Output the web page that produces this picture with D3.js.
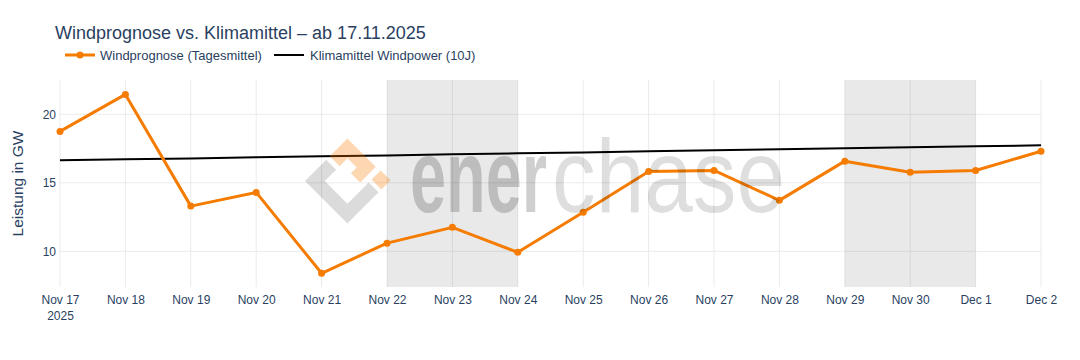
<!DOCTYPE html>
<html>
<head>
<meta charset="utf-8">
<script src="https://cdn.jsdelivr.net/npm/d3@7"></script>
<style>
  body { margin: 0; background: #fff; }
  text { font-family: "Liberation Sans", Arial, sans-serif; }
</style>
</head>
<body>
<div id="chart"></div>
<script>
// data
const days = ["2025-11-17", "2025-11-18", "2025-11-19", "2025-11-20", "2025-11-21", "2025-11-22",
  "2025-11-23", "2025-11-24", "2025-11-25", "2025-11-26", "2025-11-27", "2025-11-28",
  "2025-11-29", "2025-11-30", "2025-12-01", "2025-12-02"];
const windForecast = [18.75, 21.45, 13.3, 14.3, 8.4, 10.6, 11.75, 9.93, 12.85, 15.82, 15.9, 13.72,
  16.58, 15.77, 15.9, 17.3];
const climateMean = [16.64, 16.71, 16.78, 16.86, 16.93, 17.0, 17.08, 17.15, 17.22, 17.3, 17.37, 17.44,
  17.52, 17.59, 17.66, 17.74];
const weekends = [["2025-11-22", "2025-11-24"], ["2025-11-29", "2025-12-01"]];
const yTicks = [10, 15, 20];
const seriesNames = ["Windprognose (Tagesmittel)", "Klimamittel Windpower (10J)"];
const titleText = "Windprognose vs. Klimamittel \u2013 ab 17.11.2025";

const width = 1080, height = 360;
const margin = { top: 80, right: 39, bottom: 73, left: 60 };
const innerW = width - margin.left - margin.right,
  innerH = height - margin.top - margin.bottom;
const textColor = "#2a3f5f";
const orange = "#f57c00";

const parse = d3.timeParse("%Y-%m-%d");
const dates = days.map(parse);

const svg = d3.select("#chart").append("svg")
  .attr("width", width).attr("height", height);

const g = svg.append("g")
  .attr("transform", `translate(${margin.left},${margin.top})`);

const x = d3.scaleTime().domain([dates[0], dates[dates.length - 1]]).range([0, innerW]);
const y = d3.scaleLinear().domain([7.4, 22.5]).range([innerH, 0]);

// grid lines
g.append("g").selectAll("line.vg").data(dates).join("line")
  .attr("x1", d => x(d)).attr("x2", d => x(d))
  .attr("y1", 0).attr("y2", innerH)
  .attr("stroke", "#ebebeb").attr("stroke-width", 1);
g.append("g").selectAll("line.hg").data(yTicks).join("line")
  .attr("x1", 0).attr("x2", innerW)
  .attr("y1", d => y(d)).attr("y2", d => y(d))
  .attr("stroke", "#ebebeb").attr("stroke-width", 1);

// weekend shading
g.append("g").selectAll("rect").data(weekends).join("rect")
  .attr("x", d => x(parse(d[0])))
  .attr("width", d => x(parse(d[1])) - x(parse(d[0])))
  .attr("y", 0).attr("height", innerH)
  .attr("fill", "#000").attr("fill-opacity", 0.085);

// watermark (enerchase logo)
const wm = svg.append("g");
const logo = wm.append("g").attr("transform", "translate(305,181) rotate(-45)");
logo.append("path")
  .attr("d", "M0,0 L30,0 L30,14 L14,14 L14,46 L44,46 L44,60 L0,60 Z")
  .attr("fill", "#000").attr("fill-opacity", 0.14);
logo.append("path")
  .attr("d", "M35,0 L60,0 L60,40 L38,40 L38,27 L46,27 L46,14 L35,14 Z")
  .attr("fill", "#f57c00").attr("fill-opacity", 0.3);
logo.append("rect")
  .attr("x", 48).attr("y", 46).attr("width", 13).attr("height", 14)
  .attr("fill", "#f57c00").attr("fill-opacity", 0.3);
wm.append("text")
  .attr("x", 410).attr("y", 212)
  .attr("textLength", 137).attr("lengthAdjust", "spacingAndGlyphs")
  .style("font-family", "'Liberation Sans Narrow', 'Liberation Sans', Arial, sans-serif")
  .style("font-weight", "bold").style("font-size", "104px")
  .attr("fill", "#000").attr("fill-opacity", 0.19)
  .text("ener");
wm.append("text")
  .attr("x", 552).attr("y", 212)
  .attr("textLength", 233).attr("lengthAdjust", "spacingAndGlyphs")
  .style("font-family", "'Liberation Sans Narrow', 'Liberation Sans', Arial, sans-serif")
  .style("font-size", "104px")
  .attr("fill", "#000").attr("fill-opacity", 0.13)
  .text("chase");

// lines
const climateLine = d3.line().x((d, i) => x(dates[i])).y(d => y(d));
g.append("path").datum(climateMean)
  .attr("d", climateLine)
  .attr("fill", "none").attr("stroke", "#000").attr("stroke-width", 2);

const windLine = d3.line().x((d, i) => x(dates[i])).y(d => y(d));
g.append("path").datum(windForecast)
  .attr("d", windLine)
  .attr("fill", "none").attr("stroke", orange).attr("stroke-width", 3)
  .attr("stroke-linejoin", "round");
g.append("g").selectAll("circle").data(windForecast).join("circle")
  .attr("cx", (d, i) => x(dates[i])).attr("cy", d => y(d))
  .attr("r", 3.5).attr("fill", orange);

// x axis
const fmt = d3.timeFormat("%b %-d");
const xAxis = g.append("g")
  .attr("transform", `translate(0,${innerH})`)
  .call(d3.axisBottom(x).tickValues(dates).tickFormat(fmt).tickSize(0).tickPadding(8));
xAxis.select(".domain").remove();
xAxis.selectAll("text")
  .style("font-size", "12px").attr("fill", textColor)
  .style("font-family", "'Liberation Sans', Arial, sans-serif");
xAxis.selectAll(".tick").filter((d, i) => i === 0)
  .append("text")
  .attr("y", 24).attr("dy", "0.71em")
  .attr("fill", textColor)
  .style("font-size", "12px")
  .attr("text-anchor", "middle")
  .text("2025");

// y axis
const yAxis = g.append("g")
  .call(d3.axisLeft(y).tickValues(yTicks).tickSize(0).tickPadding(4));
yAxis.select(".domain").remove();
yAxis.selectAll("text")
  .style("font-size", "12px").attr("fill", textColor)
  .style("font-family", "'Liberation Sans', Arial, sans-serif");

svg.append("text")
  .attr("transform", `translate(23,${margin.top + innerH / 2}) rotate(-90)`)
  .attr("text-anchor", "middle")
  .attr("fill", textColor)
  .style("font-size", "15.5px")
  .text("Leistung in GW");

// title
svg.append("text")
  .attr("x", 55).attr("y", 39)
  .attr("fill", textColor)
  .style("font-size", "18px")
  .text(titleText);

// legend
const legend = svg.append("g").attr("transform", "translate(65,55)");
legend.append("line").attr("x1", 0).attr("x2", 30)
  .attr("stroke", orange).attr("stroke-width", 3);
legend.append("circle").attr("cx", 15).attr("r", 3.5).attr("fill", orange);
legend.append("text").attr("x", 35).attr("y", 4.5)
  .attr("fill", textColor).style("font-size", "13px")
  .text(seriesNames[0]);
legend.append("line").attr("x1", 209).attr("x2", 239)
  .attr("stroke", "#000").attr("stroke-width", 2);
legend.append("text").attr("x", 245).attr("y", 4.5)
  .attr("fill", textColor).style("font-size", "13px")
  .text(seriesNames[1]);
</script>
</body>
</html>
